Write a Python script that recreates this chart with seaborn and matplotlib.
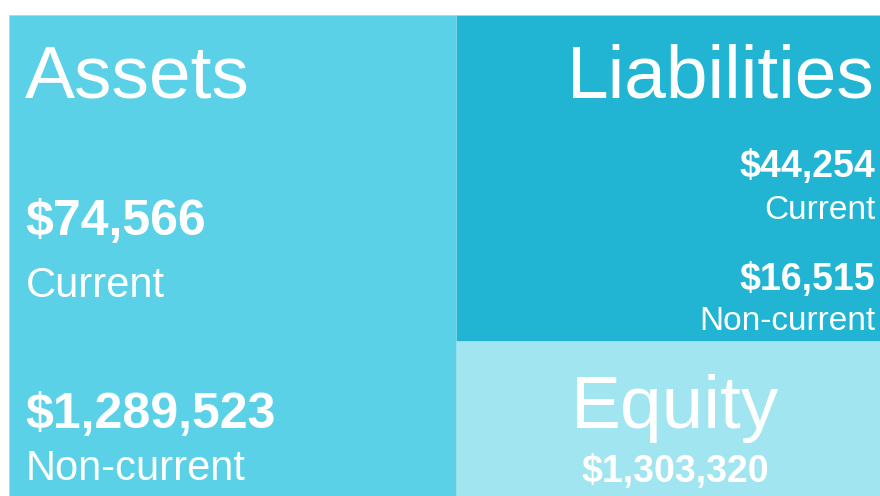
import matplotlib
matplotlib.use("Agg")
import matplotlib.pyplot as plt
import seaborn as sns

# balance sheet values
section_names = ["Assets", "Liabilities", "Equity"]
section_colors = ["#5BD1E8", "#22B5D3", "#A0E5F0"]

asset_labels = ["Current", "Non-current"]
asset_values = [74566, 1289523]

liability_labels = ["Current", "Non-current"]
liability_values = [44254, 16515]

equity_value = 1303320


def money(v):
    return f"${v:,.0f}"


sns.set_theme(style="white")
plt.rcParams["font.family"] = ["Liberation Sans", "DejaVu Sans"]

fig = plt.figure(figsize=(8.8, 4.96), dpi=100)
ax = fig.add_axes([0, 0, 1, 1])
ax.set_xlim(0, 880)
ax.set_ylim(496, 0)
ax.axis("off")

# layout in pixel space (left, width, top, height)
boxes = {
    "Assets": (9, 447, 15, 520),
    "Liabilities": (456, 438, 15, 326),
    "Equity": (456, 438, 341, 200),
}
for name, color in zip(section_names, section_colors):
    x0, w, y0, h = boxes[name]
    ax.bar(x0, h, width=w, bottom=y0, align="edge", color=color,
           edgecolor="#8fdcec", linewidth=0.4)

title_size = 54
white = "white"

# Assets block
ax.text(25, 97, section_names[0], fontsize=title_size, color=white,
        ha="left", va="baseline")
asset_rows = [(235, 297), (428, 480)]
for (yv, yl), lab, val in zip(asset_rows, asset_labels, asset_values):
    ax.text(25, yv, money(val), fontsize=36, fontweight="bold", color=white,
            ha="left", va="baseline")
    ax.text(26, yl, lab, fontsize=30, color=white, ha="left", va="baseline")

# Liabilities block
ax.text(875, 98, section_names[1], fontsize=title_size, color=white,
        ha="right", va="baseline")
liab_rows = [(177, 219), (290, 330)]
for (yv, yl), lab, val in zip(liab_rows, liability_labels, liability_values):
    ax.text(875, yv, money(val), fontsize=27, fontweight="bold", color=white,
            ha="right", va="baseline")
    ax.text(875, yl, lab, fontsize=24, color=white, ha="right", va="baseline")

# Equity block
ax.text(675, 428, section_names[2], fontsize=title_size, color=white,
        ha="center", va="baseline")
ax.text(675, 482, money(equity_value), fontsize=27, fontweight="bold",
        color=white, ha="center", va="baseline")

fig.savefig("out.png", dpi=100, facecolor="white")
